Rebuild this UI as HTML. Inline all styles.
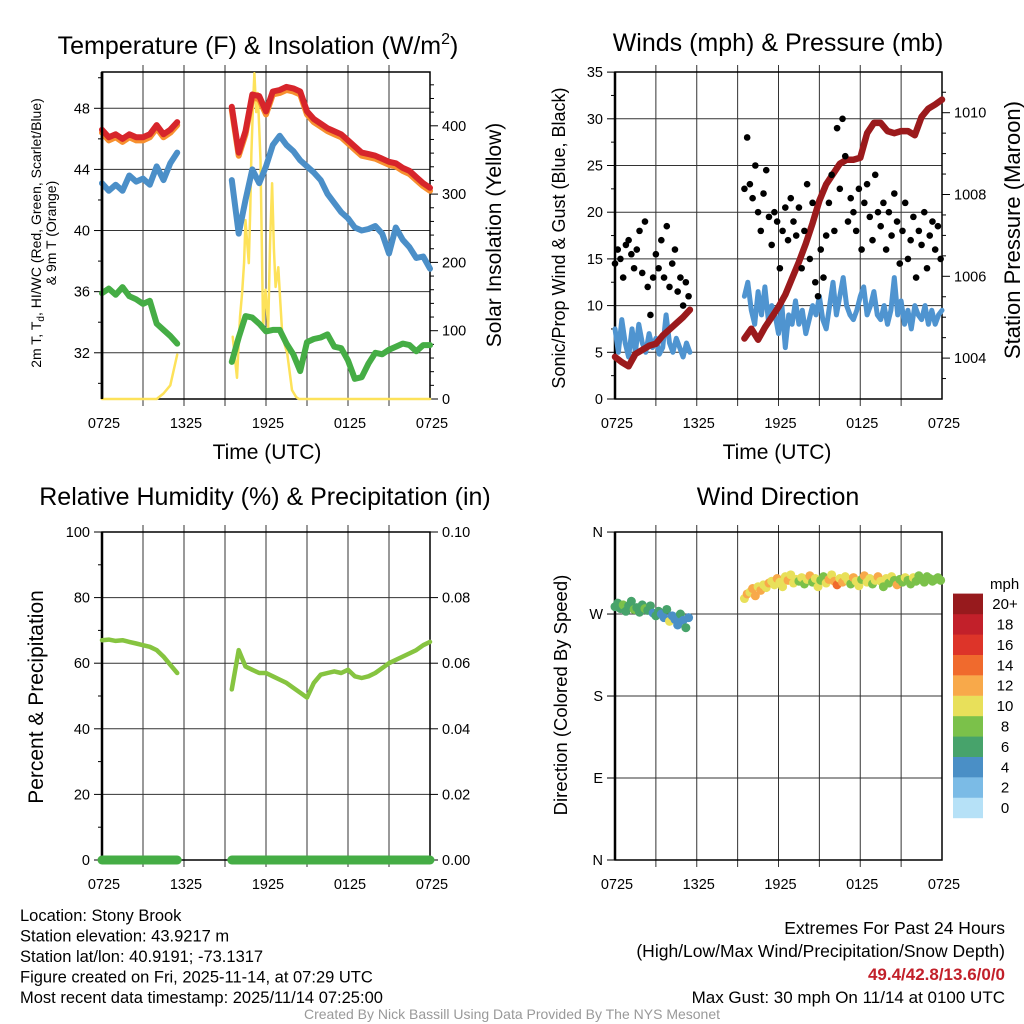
<!DOCTYPE html>
<html><head><meta charset="utf-8"><style>
body{margin:0;background:#fff;}
svg{display:block;font-family:"Liberation Sans",Arial,sans-serif;}
</style></head><body>
<svg id="chart" width="1024" height="1024" viewBox="0 0 1024 1024"></svg>
<script>
// ---------- DATA ----------
const xTickLabels = ["0725","1325","1925","0125","0725"];
const tempTicks = [32,36,40,44,48];
const solTicks = [0,100,200,300,400];
const windTicks = [0,5,10,15,20,25,30,35];
const presTicks = [1004,1006,1008,1010];
const rhTicks = [0,20,40,60,80,100];
const precipTicks = ["0.00","0.02","0.04","0.06","0.08","0.10"];
const dirTicks = ["N","E","S","W","N"];
const speedBins = ["0","2","4","6","8","10","12","14","16","18","20+"];
const speedColors = ["#b6e1f7","#7bbbe6","#4a8fc6","#47a36b","#7bc14a","#e8e05a","#f8a94a","#f06a2d","#dd3429","#c2202a","#971a1d"];

const red1 = [46.6,46.1,46.3,46.0,46.3,46.1,46.1,46.3,46.9,46.3,46.6,47.1];
const red2 = [48.1,45.1,46.5,48.9,48.8,47.8,49.1,49.2,49.4,49.3,49.1,47.8,47.3,47.0,46.7,46.5,46.3,45.9,45.5,45.1,45.0,44.9,44.7,44.5,44.4,44.1,43.9,43.5,43.1,42.8];
const orange1 = [46.4,45.9,46.1,45.8,46.1,45.9,45.9,46.1,46.7,46.1,46.4,46.9];
const orange2 = [47.9,44.9,46.3,48.7,48.6,47.6,48.9,49.0,49.2,49.1,48.9,47.6,47.1,46.8,46.5,46.3,46.1,45.7,45.3,44.9,44.8,44.7,44.5,44.3,44.2,43.9,43.7,43.3,42.9,42.6];
const hiwc1 = [43.1,42.6,43.0,42.6,43.6,43.2,43.4,43.0,44.2,43.3,44.4,45.1];
const hiwc2 = [43.3,39.8,42.0,44.0,43.1,44.2,45.6,46.2,45.6,45.2,44.6,44.2,43.8,43.3,42.4,41.8,41.2,40.8,40.2,40.0,40.1,40.3,39.8,38.5,40.2,39.4,38.9,38.2,38.3,37.5];
const dew1 = [35.9,36.2,35.8,36.3,35.7,35.5,35.2,35.4,33.9,33.5,33.1,32.6];
const dew2 = [31.4,33.0,34.4,34.3,33.9,33.4,33.5,33.5,32.6,31.9,30.8,32.7,32.9,33.0,33.2,32.4,32.3,31.5,30.3,30.4,31.3,32.0,31.9,32.2,32.4,32.6,32.5,32.1,32.5,32.5];
const sol1 = [0,0,0,0,0,0,0,0,0,8,20,65];
const solH2 = [9.56,9.88,10.1,10.25,10.4,10.5,10.62,10.74,10.85,10.93,11.05,11.15,11.28,11.4,11.6,11.79,11.96,12.16,12.3,12.45,12.58,12.7,12.9,13.05,13.2,13.55,13.9,14.2,14.4,24];
const solV2 = [91,31,120,155,200,262,230,199,280,360,430,477,420,448,350,105,160,105,230,316,220,164,193,140,91,67,13,3,0,0];

const pres1 = [1004.03,1003.9,1003.8,1004.1,1004.2,1004.3,1004.35,1004.55,1004.7,1004.85,1005.0,1005.18];
const pres2 = [1004.48,1004.72,1004.45,1004.75,1005.0,1005.25,1005.55,1005.95,1006.35,1006.8,1007.3,1007.85,1008.25,1008.5,1008.75,1008.85,1008.85,1008.9,1009.5,1009.75,1009.75,1009.55,1009.5,1009.55,1009.55,1009.45,1009.9,1010.1,1010.2,1010.32];
const wind1 = [7.5,5,8.5,6,4.5,7.5,5,8,6,5,7,5.5,6.5,4.8,5.5,9,6,5,6.5,5.5,4.5,6,5];
const wind2 = [11,12.5,9.5,8,11.5,9,12,8.5,10, 9,7,10,5.5,9,8,10.5,8, 9.5,7,8.5,10,9,11,8.5,7.5, 10,12.5,9,11,13,10,9,8.5, 9.5,11,12,9,10,11.5,9,8.5, 10,8,9.5,13,9,10.5,8,9.5, 7.5,10,9,8.5,10,8,9.5,8,9,9.5];
const gust1 = [14.5,16,15,13,16.5,17,15.5,14,16,18,13.5,19,12,9,13,15.5,14,17,13,18.5,12,14.5,16,11.5,13,10,12.5,11];
const gust2 = [22.5,28,23,21.5,25,20,18,22,24.5,19.5, 16.5,20,19,14,18,20.5,17,21.5,19,17.5, 20.5,14,18,23,15,21,12.5,11,16,13, 17.5,21,24,18,29,22.5,30,26,19,21.5, 20,18,22.5,16,21,23,19.5,17,24,20, 18.5,21,16,20,17.5,22,19,14.5,18,21, 15,17,19.5,13,18,16.5,20,14,17.5,19, 16,18.5,15];
const dir1 = [278,282,276,280,273,279,284,275,277,272,280,276,274,279,271,268,273,270,266,275,262,268,264,258,270,263,255,266];
const spd1 = [6.5,7,6.5,8.5,6.5,7,6.5,8.5,7,6.5,6.5,8.5,7,6.5,4.5,6.5,6.5,4.5,4.5,6.5,10.5,4.5,4.5,4.5,6.5,4.5,6.5,4.5];
const dir2 = [287,292,294,298,290,300,296,302,299,304, 306,302,309,305,300,311,307,313,304,308, 306,310,303,308,312,305,309,300,307,311, 304,308,313,306,302,309,305,311,307,303, 310,306,301,308,312,305,309,303,307,311, 306,300,309,304,311,307,302,308,305,310, 307,303,310,306,312,308,305,311,309,306, 308,310,307];
const spd2 = [11,12.5,10.5,13,12,10.5,12.5,11,10,12, 10.5,11,12.5,10,11,10.5,13,11,10,10.5, 9,10.5,8.5,11,12.5,9,10,11,8.5,9.5, 10.5,12,11,13.5,14.5,10,12.5,11,10,9, 12.5,10.5,11,9,12,10,11.5,9,10.5,12.5, 10,9,11,8.5,10.5,9,12,8.5,9.5,10, 8.5,9,10,8.5,9,8,9.5,8.5,9,8, 8.5,9,8.5];
const rh1 = [67,67.2,66.8,67,66.5,66,65.5,65,64,62,59.5,57];
const rh2 = [52,64,59,58,57,57,56,55,54,52.5,51,49.5,54,56.5,57,57.5,57,58,56,55.5,56,57,58.5,60,61,62,63,64,65.5,66.5];
const precip1 = [0,0,0,0,0,0,0,0,0,0,0,0];
const precip2 = [0,0,0,0,0,0,0,0,0,0,0,0,0,0,0,0,0,0,0,0,0,0,0,0,0,0,0,0,0,0];

// ---------- HELPERS ----------
const NS="http://www.w3.org/2000/svg";
const svg=document.getElementById('chart');
function mk(tag,attrs,parent){const e=document.createElementNS(NS,tag);for(const k in attrs)e.setAttribute(k,attrs[k]);(parent||svg).appendChild(e);return e;}
function txt(s,x,y,size,anchor,parent,extra){const e=mk('text',Object.assign({x:x,y:y,'font-size':size,'text-anchor':anchor||'middle',fill:'#000'},extra||{}),parent);e.textContent=s;return e;}
function hrs(start,step,n){const a=[];for(let i=0;i<n;i++)a.push(start+i*step);return a;}

const P1={x0:102,x1:430,y0:72,y1:399};
const P2={x0:615,x1:942,y0:72,y1:399};
const P3={x0:102,x1:430,y0:532,y1:860};
const P4={x0:615,x1:942,y0:532,y1:860};
function tx(P,h){return P.x0+h*(P.x1-P.x0)/24;}
const yTemp=t=>108.3+(48-t)*15.28;
const ySol=w=>399-w*0.683;
const yWind=v=>399-v*9.34;
const yPres=p=>112.7+(1010-p)*40.9;
const yRH=r=>860-r*3.28;
const yPrecip=p=>860-p*3280;
const yDir=d=>860-d*0.911;

function frame(P,name,hLines){
  const g=mk('g',{});
  
  
  for(let k=1;k<8;k++){const x=tx(P,k*3);mk('line',{x1:x,x2:x,y1:P.y0-7,y2:P.y1+7,stroke:'#333','stroke-width':1},g);}
  hLines.forEach(y=>mk('line',{x1:P.x0,x2:P.x1,y1:y,y2:y,stroke:'#333','stroke-width':1},g));
  const r=mk('rect',{x:P.x0,y:P.y0,width:P.x1-P.x0,height:P.y1-P.y0,fill:'none',stroke:'#000','stroke-width':1.5});
  
  
  mk('line',{x1:P.x0,x2:P.x0,y1:P.y0,y2:P.y1,stroke:'#000','stroke-width':2.5});
  xTickLabels.forEach((l,i)=>{const t=txt(l,tx(P,i*6)+2,P.y1+29,14.5,'middle');
    
    });
}
function leftTicks(P,vals,fn,labels,minor){
  vals.forEach((v,i)=>{const y=fn(v);mk('line',{x1:P.x0-8,x2:P.x0,y1:y,y2:y,stroke:'#000'});
    const t=txt(labels?labels[i]:String(v),P.x0-12,y+5,14.5,'end');
    
    });
  (minor||[]).forEach(v=>{const y=fn(v);mk('line',{x1:P.x0-4,x2:P.x0,y1:y,y2:y,stroke:'#000'});});
}
function rightTicks(P,vals,fn,labels,minor){
  vals.forEach((v,i)=>{const y=fn(v);mk('line',{x1:P.x1,x2:P.x1+8,y1:y,y2:y,stroke:'#000'});
    const t=txt(labels?labels[i]:String(v),P.x1+12,y+5,14.5,'start');
    
    });
  (minor||[]).forEach(v=>{const y=fn(v);mk('line',{x1:P.x1,x2:P.x1+4,y1:y,y2:y,stroke:'#000'});});
}
function line(P,hs,vs,fy,color,w,name){
  const pts=hs.map((h,i)=>tx(P,h).toFixed(1)+','+fy(vs[i]).toFixed(1)).join(' ');
  const e=mk('polyline',{points:pts,fill:'none',stroke:color,'stroke-width':w,'stroke-linejoin':'round','stroke-linecap':'round'});
  
  
}
function dots(P,hs,vs,fy,colorFn,r,name){
  const g=mk('g',{});
  
  
  hs.forEach((h,i)=>mk('circle',{cx:tx(P,h),cy:fy(vs[i]),r:r,fill:colorFn(i)},g));
}
function rot(s,x,y,size,name){const t=txt(s,x,y,size,'middle',null,{transform:'rotate(-90 '+x+' '+y+')'});
  
  return t;}
const h1=hrs(0,0.5,12), h2=hrs(9.5,0.5,30);

// ---------- PANEL 1 ----------
frame(P1,'temp-panel',tempTicks.map(yTemp));
leftTicks(P1,tempTicks,yTemp,null,[30,34,38,42,46,50]);
rightTicks(P1,solTicks,ySol,null,[20,40,60,80,120,140,160,180,220,240,260,280,320,340,360,380,420,440,460]);
line(P1,h1,sol1,ySol,'#fde25a',2.5,'insolation-line-1');
line(P1,solH2,solV2,ySol,'#fde25a',2.5,'insolation-line-2');
line(P1,h1,orange1,yTemp,'#f7902f',6,'9m-temp-line-1');
line(P1,h2,orange2,yTemp,'#f7902f',6,'9m-temp-line-2');
line(P1,h1,red1,yTemp,'#d7252b',6,'2m-temp-line-1');
line(P1,h2,red2,yTemp,'#d7252b',6,'2m-temp-line-2');
line(P1,h1,hiwc1,yTemp,'#4b8fc8',6,'hiwc-line-1');
line(P1,h2,hiwc2,yTemp,'#4b8fc8',6,'hiwc-line-2');
line(P1,h1,dew1,yTemp,'#45ad45',6,'dewpoint-line-1');
line(P1,h2,dew2,yTemp,'#45ad45',6,'dewpoint-line-2');
mk('line',{x1:P1.x0,x2:P1.x0,y1:P1.y0,y2:P1.y1,stroke:'#000','stroke-width':2.5});
{const t=txt('Temperature (F) & Insolation (W/m',258,54,25,'middle');
 const s=mk('tspan',{dy:-10,'font-size':16},t);s.textContent='2';const s2=mk('tspan',{dy:10},t);s2.textContent=')';}
{const t=txt('2m T, T',0,0,14,'middle',null,{transform:'translate(41 233) rotate(-90)'});
 const s=mk('tspan',{dy:3,'font-size':10},t);s.textContent='d';const s2=mk('tspan',{dy:-3},t);s2.textContent=', HI/WC (Red, Green, Scarlet/Blue)';
 const t2=txt('& 9m T (Orange)',0,0,14,'middle',null,{transform:'translate(56 233) rotate(-90)'});}
rot('Solar Insolation (Yellow)',501,235,21,'insolation-axis-title');
{const t=txt('Time (UTC)',267,459,21,'middle');}

// ---------- PANEL 2 ----------
frame(P2,'wind-panel',windTicks.slice(1,7).map(yWind));
leftTicks(P2,windTicks,yWind,null,[2.5,7.5,12.5,17.5,22.5,27.5,32.5]);
rightTicks(P2,presTicks,yPres,null,[1003.5,1004.5,1005,1005.5,1006.5,1007,1007.5,1008.5,1009,1009.5,1010.5]);
line(P2,hrs(0,0.25,23),wind1,yWind,'#4f94d0',5,'wind-speed-line-1');
line(P2,hrs(9.5,0.25,59),wind2,yWind,'#4f94d0',5,'wind-speed-line-2');
line(P2,h1,pres1,yPres,'#9b1a1c',6.5,'pressure-line-1');
line(P2,h2,pres2,yPres,'#9b1a1c',6.5,'pressure-line-2');
dots(P2,hrs(0,0.2,28),gust1,yWind,()=>'#000',3.3,'gust-dots-1');
dots(P2,hrs(9.5,0.2,73),gust2,yWind,()=>'#000',3.3,'gust-dots-2');
{const t=txt('Winds (mph) & Pressure (mb)',778,51,25,'middle');}
rot('Sonic/Prop Wind & Gust (Blue, Black)',565,238,18,'wind-y-axis-title');
rot('Station Pressure (Maroon)',1020,230,22,'pressure-axis-title');
{const t=txt('Time (UTC)',777,459,21,'middle');}

// ---------- PANEL 3 ----------
frame(P3,'rh-panel',[20,40,60,80].map(yRH));
leftTicks(P3,rhTicks,yRH,null,[10,30,50,70,90]);
rightTicks(P3,rhTicks,yRH,precipTicks,[]);
line(P3,h1,rh1,yRH,'#86c440',4.5,'rh-line-1');
line(P3,h2,rh2,yRH,'#86c440',4.5,'rh-line-2');
line(P3,h1,precip1,yPrecip,'#45ad45',9,'precip-line-1');
line(P3,h2,precip2,yPrecip,'#45ad45',9,'precip-line-2');
{const t=txt('Relative Humidity (%) & Precipitation (in)',265,505,25,'middle');}
rot('Percent & Precipitation',43,697,21,'rh-y-axis-title');

// ---------- PANEL 4 ----------
frame(P4,'direction-panel',[90,180,270].map(yDir));
leftTicks(P4,[0,90,180,270,360],yDir,dirTicks,[]);
const colorFor=s=>speedColors[Math.min(10,Math.floor(s/2))];
dots(P4,hrs(0,0.2,28),dir1,yDir,i=>colorFor(spd1[i]),4.5,'direction-dots-1');
dots(P4,hrs(9.5,0.2,73),dir2,yDir,i=>colorFor(spd2[i]),4.5,'direction-dots-2');
{const t=txt('Wind Direction',778,505,25,'middle');}
rot('Direction (Colored By Speed)',567,695,18.5,'direction-y-axis-title');
{const g=mk('g',{});
 txt('mph',990,589,15,'start',g);
 speedBins.forEach((b,i)=>{const y=818-(i+1)*20.4;mk('rect',{x:953,y:y,width:30,height:20.6,fill:speedColors[i]},g);
   const l=txt(b,1005,y+15.5,15,'middle',g);
   
   });}

// ---------- FOOTER ----------
{const g=mk('g',{});
 ["Location: Stony Brook","Station elevation: 43.9217 m","Station lat/lon: 40.9191; -73.1317","Figure created on Fri, 2025-11-14, at 07:29 UTC","Most recent data timestamp: 2025/11/14 07:25:00"].forEach((s,i)=>txt(s,20,921+i*20.5,16.5,'start',g));}
{const g=mk('g',{});
 txt('Extremes For Past 24 Hours',1005,934,17.5,'end',g);
 txt('(High/Low/Max Wind/Precipitation/Snow Depth)',1005,957,17.5,'end',g);
 txt('49.4/42.8/13.6/0/0',1005,980,17,'end',g,{fill:'#c2202a','font-weight':'bold'});
 txt('Max Gust: 30 mph On 11/14 at 0100 UTC',1005,1003,17,'end',g);}
{const t=txt('Created By Nick Bassill Using Data Provided By The NYS Mesonet',512,1019,14,'middle',null,{fill:'#999'});}
</script>
</body></html>
